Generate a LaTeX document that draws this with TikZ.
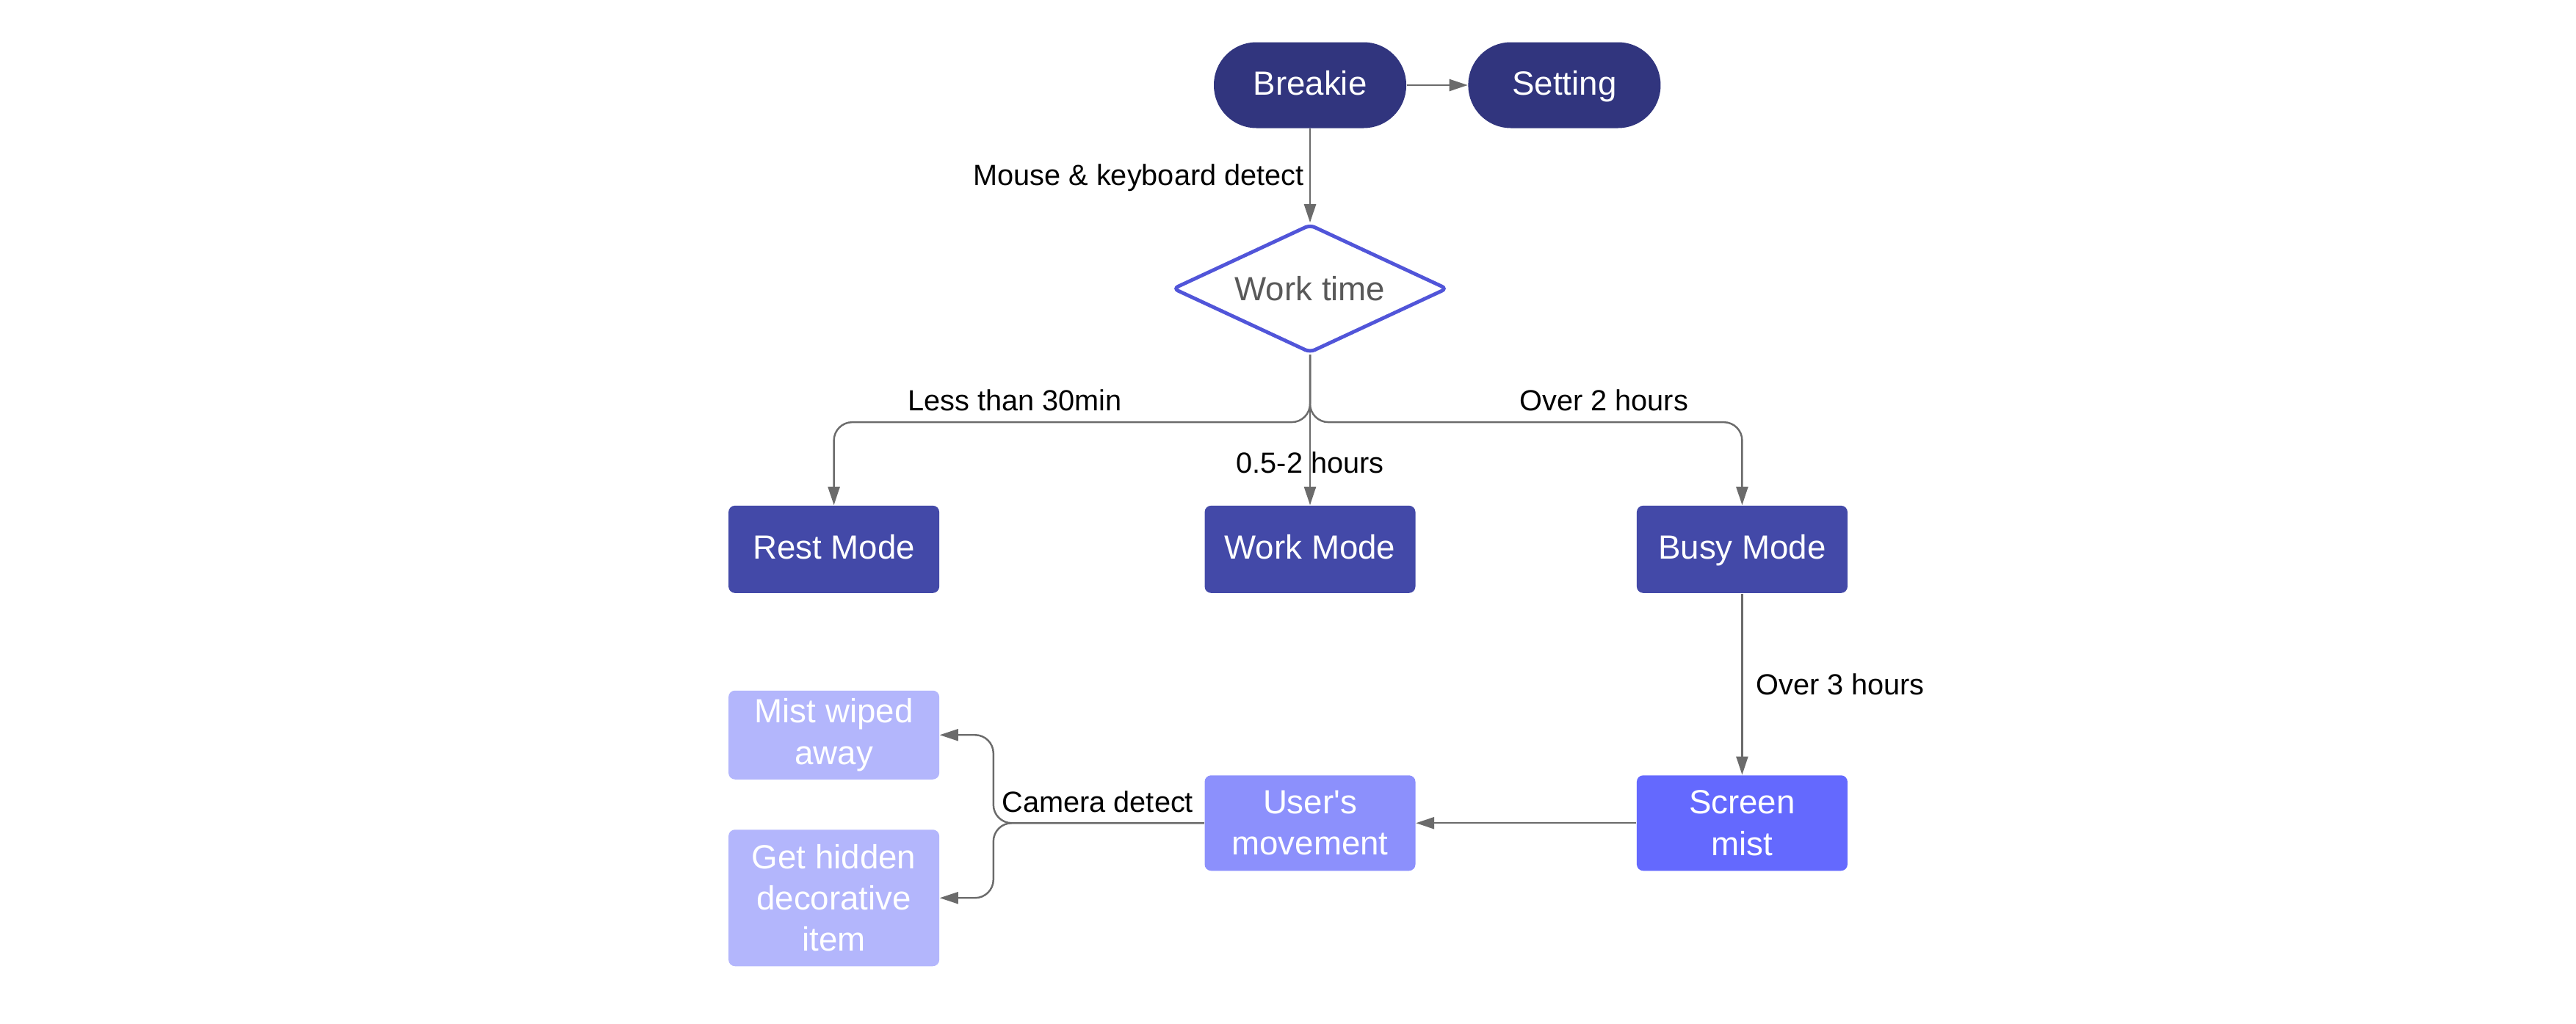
\documentclass[tikz,border=0pt]{standalone}
\usepackage{fontspec}
\setmainfont{Liberation Sans}
\usetikzlibrary{shapes.geometric, arrows.meta, positioning}

\definecolor{navy}{HTML}{31357E}
\definecolor{modeblue}{HTML}{4349A8}
\definecolor{mistblue}{HTML}{6469FE}
\definecolor{moveblue}{HTML}{8C90FC}
\definecolor{paleblue}{HTML}{B3B6FC}
\definecolor{edgeblue}{HTML}{5155D9}
\definecolor{linegrey}{HTML}{6B6B6B}

\begin{document}
\begin{tikzpicture}[
        terminal/.style={rectangle, rounded corners=0.58cm, fill=navy, text=white, minimum width=2.62cm, minimum height=1.17cm, inner sep=0pt, text height=1.9ex, text depth=0.5ex, font=\fontsize{13}{16}\selectfont},
        decision/.style={diamond, aspect=2.137, draw=edgeblue, line width=1.4pt, rounded corners=2pt, fill=white, text=black!65, minimum width=3.74cm, minimum height=1.75cm, inner sep=0pt, font=\fontsize{13}{16}\selectfont},
        mode/.style={rectangle, rounded corners=2.5pt, fill=modeblue, text=white, minimum width=2.87cm, minimum height=1.19cm, inner sep=0pt, align=center, font=\fontsize{13}{16}\selectfont},
        oneline/.style={text height=1.9ex, text depth=0.5ex},
        line/.style={-{Triangle[length=0.25cm, width=0.16cm]}, draw=linegrey, line width=0.7pt, rounded corners=0.25cm},
        lbl/.style={font=\fontsize{11.3}{14}\selectfont, text=black, inner sep=1pt}
    ]
        \useasboundingbox (0,0) rectangle (35.08,-13.94);

        % Top row
        \node[terminal] (breakie) at (17.84,-1.16) {Breakie};
        \node[terminal, right=0.83cm of breakie] (setting) {Setting};
        \node[decision, below=1.28cm of breakie] (worktime) {Work time};

        \draw[line] (breakie) -- (setting);
        \draw[line] (breakie) -- (worktime)
            node[lbl, pos=0.52, left=1pt] (lmouse) {Mouse \& keyboard detect};

        % Modes
        \node[mode, oneline, below=2.05cm of worktime] (work) {Work Mode};
        \node[mode, oneline, left=3.60cm of work] (rest) {Rest Mode};
        \node[mode, oneline, right=3.00cm of work] (busy) {Busy Mode};
        \coordinate[below=0.92cm of worktime.south] (split);

        \draw[line] (worktime.south) -- (work.north)
            node[lbl, pos=0.72] (lmid) {0.5-2 hours};
        \draw[line] (worktime.south) -- (split) -| (rest.north)
            node[lbl, pos=0.31, above=3pt] (lless) {Less than 30min};
        \draw[line] (worktime.south) -- (split) -| (busy.north)
            node[lbl, pos=0.34, above=3pt] (lover) {Over 2 hours};

        % Mist branch
        \node[mode, fill=mistblue, minimum height=1.30cm, below=2.47cm of busy] (screen) {Screen\\mist};
        \node[mode, fill=moveblue, minimum height=1.30cm, left=3.00cm of screen] (users) {User\textquotesingle s\\movement};
        \node[mode, fill=paleblue, minimum height=1.21cm, left=3.60cm of users, yshift=1.20cm] (wiped) {Mist wiped\\away};
        \node[mode, fill=paleblue, minimum height=1.86cm, left=3.60cm of users, yshift=-1.02cm] (hidden) {Get hidden\\decorative\\item};
        \coordinate[left=2.87cm of users.west] (fork);

        \draw[line] (busy) -- (screen)
            node[lbl, midway, right=4pt] (lthree) {Over 3 hours};
        \draw[line] (screen) -- (users);
        \draw[line] (users.west) -- (fork) |- (wiped.east);
        \draw[line] (users.west) -- (fork) |- (hidden.east);
        \node[lbl, above left=3pt and 3pt of users.west] (lcam) {Camera detect};
    \end{tikzpicture}
\end{document}
